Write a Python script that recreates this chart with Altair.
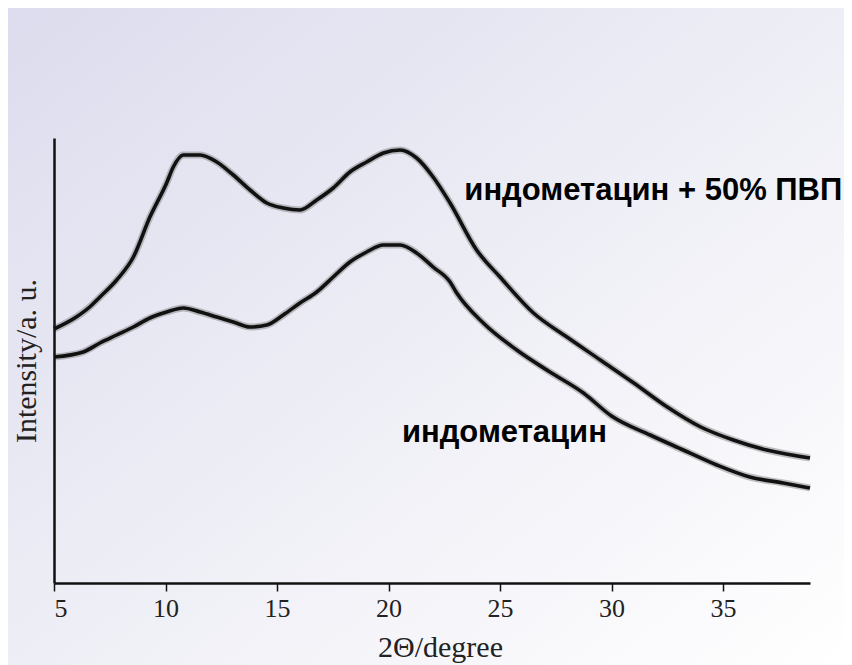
import altair as alt
import pandas as pd

# --- data ---
theta_pvp = [5.0, 6.0, 6.6, 7.06, 7.81, 8.56, 9.30, 10.05, 10.35, 10.8, 11.55, 12.3, 13.04,
             13.79, 14.54, 15.28, 16.03, 16.78, 17.52, 18.27, 19.02, 19.77, 20.52, 21.26,
             22.0, 22.76, 23.95, 25.0, 26.5, 28.0, 29.5, 31.0, 32.5, 34.0, 35.46, 36.96, 38.9]
int_pvp = [254, 266, 276, 286, 303, 326, 366, 400, 416, 428, 428, 421, 408,
           393, 380, 375, 373, 383, 395, 411, 421, 430, 433, 425,
           406, 380, 333, 306, 270, 246, 223, 200, 176, 156, 143, 133, 125]

theta_ind = [5.0, 6.31, 7.06, 7.81, 8.56, 9.30, 10.05, 10.8, 11.55, 12.3, 13.04, 13.79,
             14.54, 15.28, 16.03, 16.78, 17.52, 18.27, 19.02, 19.77, 20.52, 21.26, 22.0,
             22.76, 23.06, 24.25, 25.75, 27.24, 28.74, 30.0, 31.73, 33.22, 34.72, 36.2,
             37.7, 38.9]
int_ind = [226, 231, 240, 248, 256, 265, 271, 275, 271, 266, 261, 256,
           258, 268, 280, 291, 306, 321, 331, 338, 338, 330, 316,
           301, 290, 260, 233, 211, 190, 167, 148, 133, 118, 106,
           100, 95]

series_names = ["индометацин + 50% ПВП", "индометацин"]
label_texts = ["индометацин + 50% ПВП", "индометацин"]
label_x = [23.4, 20.6]
label_y = [383, 141]
x_ticks = [5, 10, 15, 20, 25, 30, 35]

rows = []
for t, v in zip(theta_pvp, int_pvp):
    rows.append({"theta": t, "intensity": v, "series": series_names[0]})
for t, v in zip(theta_ind, int_ind):
    rows.append({"theta": t, "intensity": v, "series": series_names[1]})
df = pd.DataFrame(rows)
labels_df = pd.DataFrame({"text": label_texts, "theta": label_x, "intensity": label_y})

W, H = 756, 445
PAD = {"left": 46, "top": 130, "right": 34, "bottom": 82}

x_scale = alt.Scale(domain=[5, 38.9], nice=False, zero=False)
y_scale = alt.Scale(domain=[0, 445], nice=False, zero=False)

bg = alt.Chart(pd.DataFrame({"a": [0]})).mark_rect(
    fill=alt.Gradient(
        gradient="linear",
        stops=[
            alt.GradientStop(color="#dcdcee", offset=0),
            alt.GradientStop(color="#ececf5", offset=0.45),
            alt.GradientStop(color="#ffffff", offset=1),
        ],
        x1=0, y1=0, x2=1, y2=1,
    )
).encode(
    x=alt.value(-PAD["left"]), x2=alt.value(W + PAD["right"]),
    y=alt.value(-PAD["top"]), y2=alt.value(H + PAD["bottom"]),
)

x_enc = alt.X("theta:Q", scale=x_scale, axis=alt.Axis(
    values=x_ticks, grid=False, tickSize=8, tickColor="#111", tickWidth=1.5,
    domainColor="#111", domainWidth=2.5, zindex=1,
    labelFont="Liberation Serif", labelFontSize=26, labelColor="#222", labelPadding=4,
    title="2Θ/degree", titleFont="Liberation Serif", titleFontSize=30,
    titleFontWeight="normal", titleColor="#222", titlePadding=11, titleX=386,
))
y_enc = alt.Y("intensity:Q", scale=y_scale, axis=alt.Axis(
    ticks=False, labels=False, grid=False, domainColor="#111", domainWidth=2.5, zindex=1,
    title="Intensity/a. u.", titleFont="Liberation Serif", titleFontSize=30,
    titleFontWeight="normal", titleColor="#222", titlePadding=13,
))

halo = alt.Chart(df).mark_line(
    color="#777", strokeWidth=7, opacity=0.45, interpolate="monotone"
).encode(x=x_enc, y=y_enc, detail="series:N")

lines = alt.Chart(df).mark_line(
    color="#111", strokeWidth=3.6, interpolate="monotone"
).encode(x="theta:Q", y="intensity:Q", detail="series:N")

texts = alt.Chart(labels_df).mark_text(
    align="left", baseline="alphabetic", font="Liberation Sans",
    fontWeight="bold", fontSize=31, color="#000"
).encode(x="theta:Q", y="intensity:Q", text="text:N")

chart = alt.layer(bg, halo, lines, texts).properties(
    width=W, height=H,
    autosize=alt.AutoSizeParams(type="none"),
    padding=PAD,
).configure_view(strokeWidth=0)

chart.save("out.html", embed_options={"renderer": "svg", "actions": False})
